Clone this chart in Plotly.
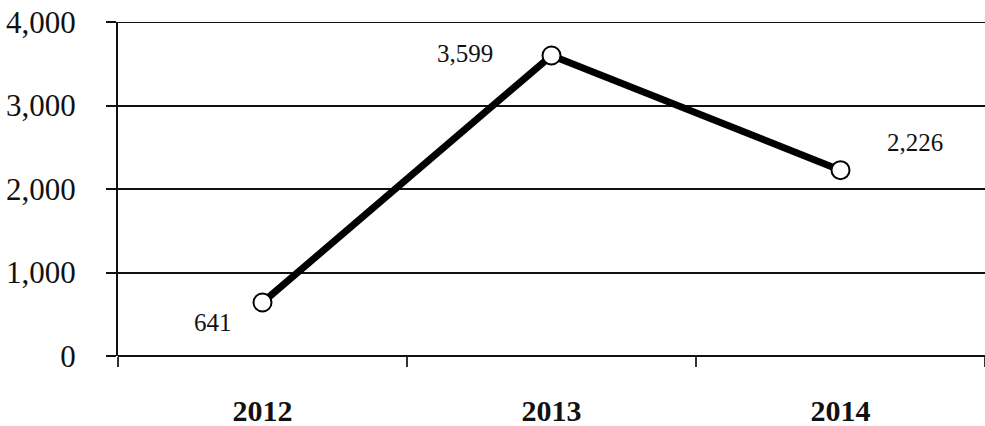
import plotly.graph_objects as go

years = ["2012", "2013", "2014"]
values = [641, 3599, 2226]
labels = ["641", "3,599", "2,226"]
label_shift = [(-50, -20), (-87, 2), (74, 28)]
y_ticks = [0, 1000, 2000, 3000, 4000]
y_tick_text = ["0", "1,000", "2,000", "3,000", "4,000"]

fig = go.Figure()
fig.add_trace(go.Scatter(
    x=years, y=values, mode="lines+markers",
    line=dict(color="black", width=7),
    marker=dict(size=18, color="white", line=dict(color="black", width=2)),
    cliponaxis=False,
))
for i, (v, t, (dx, dy)) in enumerate(zip(values, labels, label_shift)):
    fig.add_annotation(x=i, y=v, xref="x", yref="y", text=t, showarrow=False,
                       xshift=dx, yshift=dy,
                       font=dict(family="Liberation Serif", size=25, color="#111"))

fig.update_layout(
    width=985, height=426,
    margin=dict(l=118, r=0, t=22, b=70),
    paper_bgcolor="white", plot_bgcolor="white",
    showlegend=False,
    font=dict(family="Liberation Serif", color="#111"),
)
fig.update_xaxes(
    type="category", range=[-0.5, 2.5],
    showgrid=False, showline=False, zeroline=False,
    ticks="outside", tickson="boundaries", ticklen=10, tickwidth=2, tickcolor="#333",
    tickfont=dict(family="Liberation Serif", size=30, color="#111", weight="bold"),
    ticklabelstandoff=34,
)
fig.update_yaxes(
    range=[0, 4000], tickvals=y_ticks, ticktext=y_tick_text,
    showgrid=True, gridcolor="#111", gridwidth=2,
    showline=True, linecolor="#111", linewidth=2,
    zeroline=True, zerolinecolor="#111", zerolinewidth=2,
    ticks="outside", ticklen=10, tickwidth=2, tickcolor="#111",
    tickfont=dict(family="Liberation Serif", size=31, color="#111"),
    ticklabelstandoff=24,
)
fig.add_shape(type="line", xref="paper", yref="y", x0=0, x1=1, y0=4000, y1=4000,
              line=dict(color="#111", width=2))
fig.write_html("out.html")
